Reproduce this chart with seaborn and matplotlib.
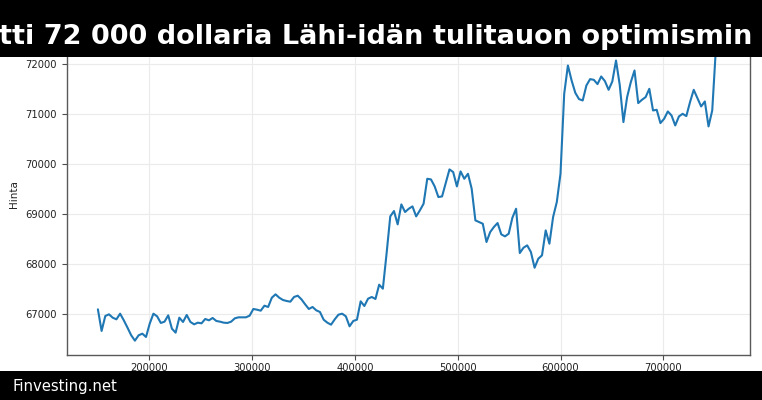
import numpy as np
import pandas as pd
import matplotlib
matplotlib.use("Agg")
import matplotlib.pyplot as plt
from matplotlib.patches import Rectangle
import seaborn as sns

# ---- data ----
x_start = 150000
x_step = 3600
price = [
    67100, 66667, 66967, 67000, 66933, 66900, 67013, 66880,
    66733, 66580, 66473, 66580, 66613, 66547, 66813, 67013,
    66960, 66827, 66853, 66980, 66713, 66633, 66933, 66847,
    66987, 66847, 66800, 66833, 66820, 66907, 66880, 66927,
    66867, 66853,
    66833, 66827, 66853, 66920, 66940, 66940, 66940, 66973,
    67107, 67093, 67073, 67173, 67147, 67333, 67400, 67333,
    67287, 67267, 67253, 67347, 67373, 67300, 67200, 67107,
    67147, 67080, 67047, 66893, 66833, 66793, 66900, 66993,
    67013,
    66960, 66760, 66867, 66893, 67260, 67167, 67313, 67347,
    67307, 67593, 67513, 68213, 68960, 69067, 68800, 69200,
    69047, 69113, 69160, 68960, 69080, 69213,
    69713, 69700, 69560, 69347, 69360, 69627, 69900, 69847,
    69560, 69860, 69713, 69813, 69513, 68880, 68847, 68813,
    68447, 68647, 68747, 68827, 68600, 68560, 68613, 68933,
    69113, 68227, 68333, 68380, 68247, 67933, 68113, 68180,
    68680, 68413, 68947, 69247, 69813,
    71413, 71980, 71680, 71433, 71307, 71280, 71580, 71707,
    71693, 71607, 71760, 71667, 71493, 71660, 72080, 71593,
    70847, 71347, 71647, 71880, 71227, 71293, 71347, 71513,
    71080, 71093, 70827, 70913, 71060, 70980, 70780, 70960,
    71013, 70967, 71247, 71493, 71327, 71160, 71260, 70760,
    71080, 72333,
]
x_values = x_start + x_step * np.arange(len(price))
x_ticks = [200000, 300000, 400000, 500000, 600000, 700000]
y_ticks = [67000, 68000, 69000, 70000, 71000, 72000]

title_text = "tti 72 000 dollaria Lähi-idän tulitauon optimismin"
source_text = "Finvesting.net"
y_label = "Hinta"

df = pd.DataFrame({"x": x_values, "Hinta": price})

sns.set_style("whitegrid")
plt.rcParams["font.family"] = ["DejaVu Sans"]

W, H = 762, 400
fig = plt.figure(figsize=(W / 100, H / 100), dpi=100)
left, right, bottom, top = 66.7, 750.3, 355.3, 33.0
ax = fig.add_axes([left / W, 1 - bottom / H, (right - left) / W, (bottom - top) / H])

sns.lineplot(data=df, x="x", y="Hinta", ax=ax, color="#1f77b4", linewidth=1.5)

ax.set_xlim(119650, 784630)
ax.set_ylim(66180, 72630)
ax.set_xticks(x_ticks)
ax.set_yticks(y_ticks)
ax.ticklabel_format(style="plain", useOffset=False)
ax.set_xlabel("")
ax.set_ylabel(y_label, fontsize=7.5, labelpad=5, color="#222222")

ax.grid(True, color="0.92", linewidth=0.8)
for s in ax.spines.values():
    s.set_visible(True)
    s.set_color("0.35")
    s.set_linewidth(1.0)
ax.tick_params(axis="both", which="major", bottom=True, left=True,
               length=3.5, width=0.8, color="0.3", labelsize=7.2,
               labelcolor="#222222")
ax.tick_params(axis="x", pad=2)
ax.tick_params(axis="y", pad=3.5)

# banners
fig.add_artist(Rectangle((0, 1 - 56.7 / H), 1, 56.7 / H, transform=fig.transFigure,
                         facecolor="black", edgecolor="none", zorder=5))
fig.add_artist(Rectangle((0, 0), 1, 29.3 / H, transform=fig.transFigure,
                         facecolor="black", edgecolor="none", zorder=5))
fig.text(752 / W, 1 - 43.5 / H, title_text, ha="right", va="baseline",
         fontsize=19.5, fontweight="bold", color="white", zorder=6)
fig.text(12 / W, 9.5 / H, source_text, ha="left", va="baseline",
         fontsize=10.7, color="white", zorder=6)

fig.savefig("out.png", dpi=100)
